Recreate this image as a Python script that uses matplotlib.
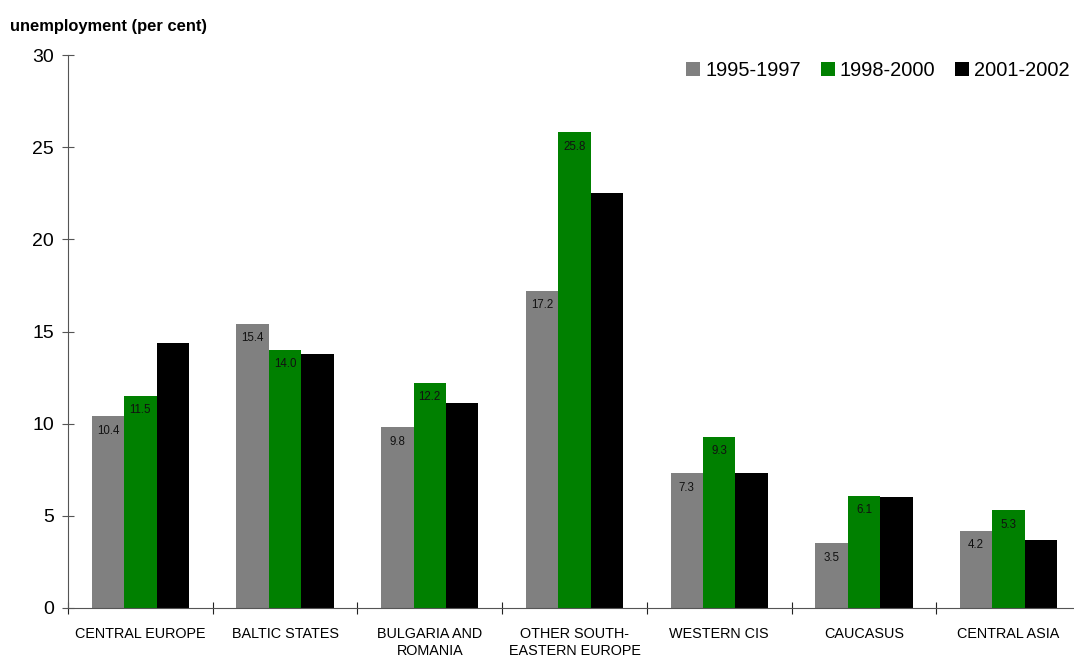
import numpy as np
import matplotlib
matplotlib.use("Agg")
import matplotlib.pyplot as plt

plt.rcParams['font.family'] = ['Liberation Sans', 'DejaVu Sans']

regions = ["CENTRAL EUROPE", "BALTIC STATES", "BULGARIA AND\nROMANIA",
           "OTHER SOUTH-\nEASTERN EUROPE", "WESTERN CIS", "CAUCASUS", "CENTRAL ASIA"]
periods = ["1995-1997", "1998-2000", "2001-2002"]
p1995 = [10.4, 15.4, 9.8, 17.2, 7.3, 3.5, 4.2]
p1998 = [11.5, 14.0, 12.2, 25.8, 9.3, 6.1, 5.3]
p2001 = [14.4, 13.8, 11.1, 22.5, 7.3, 6.0, 3.7]
colors = ["#808080", "#008000", "#000000"]

fig = plt.figure(figsize=(10.74, 6.62), dpi=100)
ax = fig.add_axes([68/1074, 1 - 608/662, 1013/1074, (608 - 55)/662])

x = np.arange(len(regions))
w = 0.224
series = [p1995, p1998, p2001]
for i, (vals, c, lab) in enumerate(zip(series, colors, periods)):
    bars = ax.bar(x + (i - 1) * w, vals, w, color=c, label=lab)
    if i < 2:
        for b, v in zip(bars, vals):
            ax.text(b.get_x() + b.get_width() / 2, v - 0.45, f"{v:.1f}",
                    ha='center', va='top', fontsize=8.3, color='#111111')

ax.set_xlim(-0.5, len(regions) - 0.5)
ax.set_ylim(0, 30)
ax.set_yticks(range(0, 31, 5))
ax.tick_params(axis='y', direction='inout', length=8, labelsize=14, color='#555555', pad=6)

ax.set_xticks(np.arange(-0.5, len(regions) - 0.6, 1))
ax.set_xticklabels([])
ax.set_xticks(x, minor=True)
ax.set_xticklabels(regions, minor=True, fontsize=10.4)
ax.tick_params(axis='x', which='major', direction='inout', length=8, color='#222222')
ax.tick_params(axis='x', which='minor', length=0, pad=14)

for s in ['top', 'right']:
    ax.spines[s].set_visible(False)
ax.spines['left'].set_color('#555555')
ax.spines['bottom'].set_color('#555555')

fig.text(10/1074, 1 - 26/662, "unemployment (per cent)", fontsize=11.9,
         fontweight='bold', va='center', ha='left')

ax.legend(loc='upper right', bbox_to_anchor=(1004/1013, 1 - 4/553), ncol=3, frameon=False,
          fontsize=14.4, handlelength=0.7, handleheight=0.7, handletextpad=0.25,
          columnspacing=1.0, borderaxespad=0.0, borderpad=0.1)

fig.savefig("out.png", dpi=100)
